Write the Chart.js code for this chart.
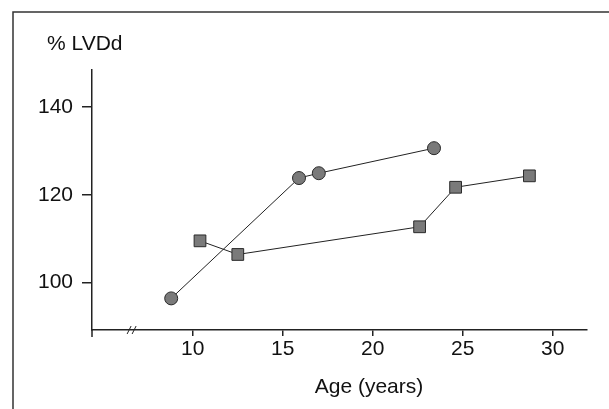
<!DOCTYPE html>
<html>
<head>
<meta charset="utf-8">
<script src="https://cdn.jsdelivr.net/npm/chart.js@4"></script>
<style>
  html, body { margin: 0; padding: 0; background: #fff; }
  #wrap { width: 609px; height: 409px; position: relative; }
</style>
</head>
<body>
<div id="wrap"><canvas id="chart" width="609" height="409"></canvas></div>
<script>
// tick labels
const xTicks = [10, 15, 20, 25, 30];
const yTicks = [100, 120, 140];

// circle series
const circleAge = [8.8, 15.9, 17.0, 23.4];
const circleLVDd = [96.4, 123.8, 124.9, 130.6];

// square series
const squareAge = [10.4, 12.5, 22.6, 24.6, 28.7];
const squareLVDd = [109.5, 106.4, 112.7, 121.7, 124.3];

const xTitle = 'Age (years)';
const yTitle = '% LVDd';
const axisBreakAt = 6.6;

const FONT = "'Liberation Sans', Arial, sans-serif";
const INK = '#222';

const extras = {
    id: 'extras',
    beforeDraw(chart) {
        const c = chart.ctx;
        // outer frame (top and left edges visible)
        c.save();
        c.strokeStyle = '#333';
        c.lineWidth = 1.5;
        c.beginPath();
        c.moveTo(13, 409);
        c.lineTo(13, 12);
        c.lineTo(609, 12);
        c.stroke();
        c.restore();
    },
    afterDraw(chart) {
        const c = chart.ctx;
        const area = chart.chartArea;
        const xs = chart.scales.x;
        c.save();
        c.strokeStyle = INK;
        c.lineWidth = 1.5;
        // y axis runs a little below the x axis
        c.beginPath();
        c.moveTo(area.left, area.bottom);
        c.lineTo(area.left, area.bottom + 7);
        c.stroke();
        // axis break mark
        const bx = xs.getPixelForValue(axisBreakAt);
        c.lineWidth = 1;
        c.beginPath();
        [-2.5, 2.5].forEach(dx => {
            c.moveTo(bx + dx - 2, area.bottom + 4);
            c.lineTo(bx + dx + 2, area.bottom - 4);
        });
        c.stroke();

        c.fillStyle = '#111';
        c.font = '21px ' + FONT;
        c.textBaseline = 'alphabetic';
        c.textAlign = 'left';
        c.fillText(yTitle, 47, 50);
        c.textAlign = 'center';
        c.fillText(xTitle, 369, 393);
        c.restore();
    }
};

const ctx = document.getElementById('chart').getContext('2d');
new Chart(ctx, {
    type: 'scatter',
    data: {
        datasets: [
            {
                label: 'circles',
                data: circleAge.map((x, i) => ({ x: x, y: circleLVDd[i] })),
                showLine: true,
                borderColor: INK,
                borderWidth: 1,
                pointStyle: 'circle',
                pointRadius: 6.5,
                pointBackgroundColor: '#7a7a7a',
                pointBorderColor: '#2a2a2a',
                pointBorderWidth: 1
            },
            {
                label: 'squares',
                data: squareAge.map((x, i) => ({ x: x, y: squareLVDd[i] })),
                showLine: true,
                borderColor: INK,
                borderWidth: 1,
                pointStyle: 'rect',
                pointRadius: 8.3,
                pointBackgroundColor: '#7a7a7a',
                pointBorderColor: '#2a2a2a',
                pointBorderWidth: 1
            }
        ]
    },
    options: {
        responsive: false,
        animation: false,
        events: [],
        layout: { padding: { left: 0, top: 70, right: 22, bottom: 0 } },
        plugins: {
            legend: { display: false },
            tooltip: { enabled: false }
        },
        scales: {
            x: {
                type: 'linear',
                min: 4.4,
                max: 31.9,
                afterFit: s => { s.height = 79; },
                afterBuildTicks: s => { s.ticks = xTicks.map(v => ({ value: v })); },
                grid: { drawOnChartArea: false, tickLength: 6, color: INK, lineWidth: 1.5, tickWidth: 1.5 },
                border: { color: INK, width: 1.5 },
                ticks: { font: { family: FONT, size: 21 }, color: '#111', padding: 1, maxRotation: 0 }
            },
            y: {
                type: 'linear',
                min: 89.2,
                max: 148.4,
                afterFit: s => { s.width = 92; },
                afterBuildTicks: s => { s.ticks = yTicks.map(v => ({ value: v })); },
                grid: { drawOnChartArea: false, tickLength: 10, color: INK, lineWidth: 1.5, tickWidth: 1.5 },
                border: { color: INK, width: 1.5 },
                ticks: { font: { family: FONT, size: 21 }, color: '#111', padding: 9 }
            }
        }
    },
    plugins: [extras]
});
</script>
</body>
</html>
